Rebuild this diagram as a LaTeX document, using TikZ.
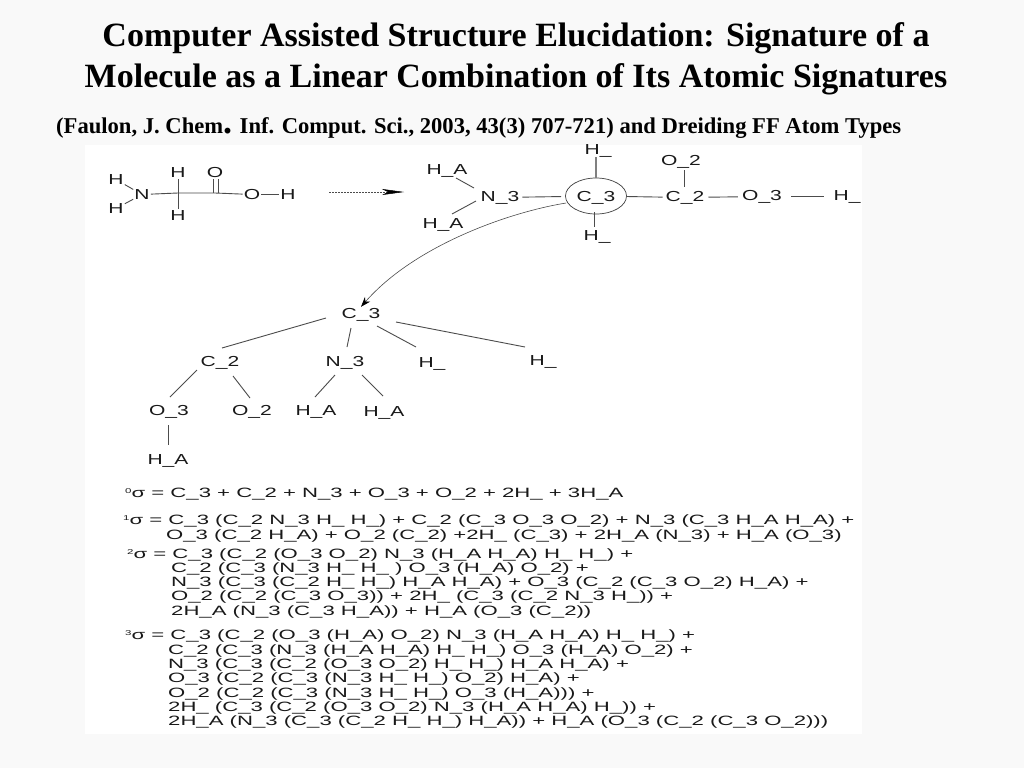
\documentclass[tikz,border=0pt]{standalone}
\usepackage{fontspec}
\setmainfont{Liberation Serif}
\newfontfamily\chemf[FakeStretch=1.45]{Liberation Sans}
\newfontfamily\eqf[FakeStretch=1.64]{Liberation Sans}
\usetikzlibrary{arrows.meta,shapes.geometric}
\definecolor{pagebg}{HTML}{F9F9F9}
\tikzset{
  x=1pt,y=-1pt,
  lab/.style={inner sep=1pt,yshift=-1.5pt,font=\chemf\fontsize{14.5}{15}\selectfont,text=black!90},
  eq/.style={inner sep=0pt,anchor=base west,font=\eqf\fontsize{13.5}{14}\selectfont,text=black!90},
  bond/.style={draw=black!70,line width=0.9pt},
  titlet/.style={inner sep=0pt,anchor=base,font=\bfseries\fontsize{34}{36}\selectfont},
  subt/.style={inner sep=0pt,anchor=base west,font=\bfseries\fontsize{22.6}{24}\selectfont}
}
\newcommand{\sg}[1]{\raisebox{0.45ex}{\fontsize{7}{7}\selectfont #1}σ}
\begin{document}
\begin{tikzpicture}
\useasboundingbox (0,0) rectangle (1024,768);
\fill[pagebg] (0,0) rectangle (1024,768);
\fill[white] (85,145) rectangle (862,734);
\node[titlet] (t1) at (516,46) {Computer Assisted Structure Elucidation: Signature of a};
\node[titlet] (t2) at (516,87.5) {Molecule as a Linear Combination of Its Atomic Signatures};
\node[subt] (t3) at (56,133) {(Faulon, J. Chem{\fontsize{36}{36}\selectfont .} Inf. Comput. Sci., 2003, 43(3) 707-721) and Dreiding FF Atom Types};
% glycine
\node[lab] (h1) at (116,178) {H};
\node[lab] (h2) at (116,207) {H};
\node[lab] (n) at (142,193) {N};
\node[lab] (h3) at (178,171) {H};
\node[lab] (h4) at (178,214) {H};
\node[lab] (o1) at (215,171) {O};
\node[lab] (o2) at (252,193) {O};
\node[lab] (h5) at (288,193) {H};
\coordinate (ca) at (178,193);
\coordinate (cb) at (215,193);
\draw[bond] (h1) -- (n);
\draw[bond] (h2) -- (n);
\draw[bond] (n) -- (ca) -- (cb) -- (o2);
\draw[bond] (ca) -- (h3);
\draw[bond] (ca) -- (h4);
\draw[bond] (213,179) -- (213,193);
\draw[bond] (218,179) -- (218,193);
\draw[bond] (o2) -- (h5);
\coordinate (a1) at (329,192);
\coordinate (a2) at (404,192);
\draw[draw=black!70,line width=0.5pt,dash pattern=on 2pt off 1pt,-{Stealth[length=22pt,width=6pt,inset=6pt,black]}] (a1) -- (a2);
% typed molecule
\node[lab] (ha1) at (447,169) {H\_A};
\node[lab] (ha2) at (443,223) {H\_A};
\node[lab] (n3) at (500,196) {N\_3};
\node[ellipse,draw=black!75,line width=0.7pt,minimum width=61pt,minimum height=36pt,inner sep=0pt] (c3c) at (596,196) {};
\node[lab] (c3) at (596,196) {C\_3};
\node[lab] (hu) at (598,149) {H\_};
\node[lab] (hd) at (597,235) {H\_};
\node[lab] (c2) at (685,196) {C\_2};
\node[lab] (o22) at (681,160) {O\_2};
\node[lab] (o33) at (762,195) {O\_3};
\node[lab] (hr) at (847,195) {H\_};
\draw[bond] (456,178) -- (474,188);
\draw[bond] (452,214) -- (476,201);
\draw[bond,shorten <=2pt,shorten >=4pt] (n3) -- (c3c);
\draw[bond,shorten >=2pt] (c3c) -- (c2);
\draw[bond,line width=1.6pt,black!50] (596,157) -- (596,178);
\draw[bond] (594,212) -- (594,227);
\draw[bond] (684,170) -- (684,187);
\draw[bond,shorten <=3pt,shorten >=3pt] (c2) -- (o33);
\draw[bond,shorten <=8pt,shorten >=8pt] (o33) -- (hr);
% tree
\node[lab] (t0) at (361,313) {C\_3};
\node[lab] (t1c) at (220,361) {C\_2};
\node[lab] (t1n) at (345,361) {N\_3};
\node[lab] (t1h) at (432,362) {H\_};
\node[lab] (t1i) at (543,360) {H\_};
\node[lab] (to3) at (169,410) {O\_3};
\node[lab] (to2) at (252,410) {O\_2};
\node[lab] (tha) at (316,410) {H\_A};
\node[lab] (thb) at (384,411) {H\_A};
\node[lab] (thc) at (168,459) {H\_A};
\draw[bond] (326,318) -- (222,348);
\draw[bond] (351,328) -- (347,347);
\draw[bond] (377,326) -- (416,347);
\draw[bond] (396,322) -- (525,347);
\draw[bond] (197,370) -- (170,397);
\draw[bond] (233,376) -- (250,398);
\draw[bond] (335,375) -- (315,397);
\draw[bond] (362,375) -- (383,396);
\draw[bond] (168,425) -- (168,445);
\draw[draw=black!70,line width=0.6pt,-{Stealth[length=10pt,width=7pt,black]}] (c3c.west) ++(1,7) .. controls (510,212) and (415,245) .. (t0.north);
% equations
\node[eq] (e0) at (125,497) {\sg{0} = C\_3 + C\_2 + N\_3 + O\_3 + O\_2 + 2H\_ + 3H\_A};
\node[eq] (e1) at (123,524) {\sg{1} = C\_3 (C\_2 N\_3 H\_ H\_) + C\_2 (C\_3 O\_3 O\_2) + N\_3 (C\_3 H\_A H\_A) +};
\node[eq] (e2) at (166,539) {O\_3 (C\_2 H\_A) + O\_2 (C\_2) +2H\_ (C\_3) + 2H\_A (N\_3) + H\_A (O\_3)};
\node[eq] (e3) at (127,558) {\sg{2} = C\_3 (C\_2 (O\_3 O\_2) N\_3 (H\_A H\_A) H\_ H\_) +};
\node[eq] (e4) at (171,572) {C\_2 (C\_3 (N\_3 H\_ H\_ ) O\_3 (H\_A) O\_2) +};
\node[eq] (e5) at (171,586) {N\_3 (C\_3 (C\_2 H\_ H\_) H\_A H\_A) + O\_3 (C\_2 (C\_3 O\_2) H\_A) +};
\node[eq] (e6) at (171,600) {O\_2 (C\_2 (C\_3 O\_3)) + 2H\_ (C\_3 (C\_2 N\_3 H\_)) +};
\node[eq] (e7) at (171,615) {2H\_A (N\_3 (C\_3 H\_A)) + H\_A (O\_3 (C\_2))};
\node[eq] (e8) at (125,639) {\sg{3} = C\_3 (C\_2 (O\_3 (H\_A) O\_2) N\_3 (H\_A H\_A) H\_ H\_) +};
\node[eq] (e9) at (168,654) {C\_2 (C\_3 (N\_3 (H\_A H\_A) H\_ H\_) O\_3 (H\_A) O\_2) +};
\node[eq] (e10) at (168,668) {N\_3 (C\_3 (C\_2 (O\_3 O\_2) H\_ H\_) H\_A H\_A) +};
\node[eq] (e11) at (168,682) {O\_3 (C\_2 (C\_3 (N\_3 H\_ H\_) O\_2) H\_A) +};
\node[eq] (e12) at (168,697) {O\_2 (C\_2 (C\_3 (N\_3 H\_ H\_) O\_3 (H\_A))) +};
\node[eq] (e13) at (168,711) {2H\_ (C\_3 (C\_2 (O\_3 O\_2) N\_3 (H\_A H\_A) H\_)) +};
\node[eq] (e14) at (168,725) {2H\_A (N\_3 (C\_3 (C\_2 H\_ H\_) H\_A)) + H\_A (O\_3 (C\_2 (C\_3 O\_2)))};
\end{tikzpicture}
\end{document}
